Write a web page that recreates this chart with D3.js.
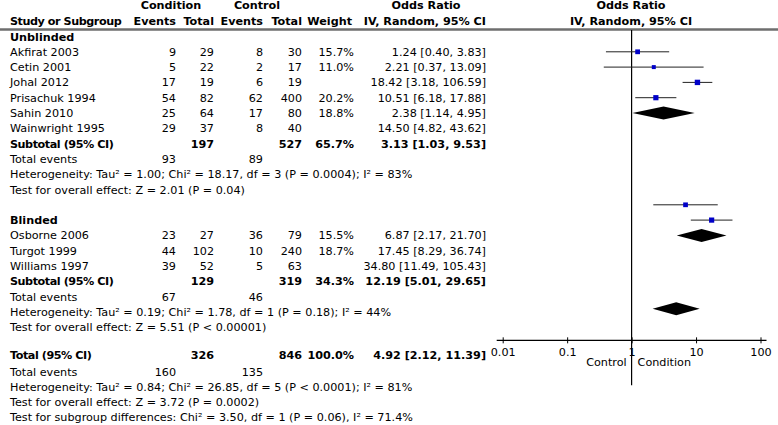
<!DOCTYPE html>
<html>
<head>
<meta charset="utf-8">
<script src="https://cdn.jsdelivr.net/npm/d3@7"></script>
<style>
  body { margin: 0; background: #fff; }
  svg text { font-family: "DejaVu Sans", Verdana, sans-serif; font-size: 11.2px; fill: #000; }
  .b { font-weight: bold; }
  .tight { letter-spacing: -0.45px; }
</style>
</head>
<body>
<div id="forest"></div>
<script>
// ---- data ----
var unblindedStudies = ["Akfirat 2003", "Cetin 2001", "Johal 2012", "Prisachuk 1994", "Sahin 2010", "Wainwright 1995"];
var unblindedCondEvents = [9, 5, 17, 54, 25, 29];
var unblindedCondTotal = [29, 22, 19, 82, 64, 37];
var unblindedCtrlEvents = [8, 2, 6, 62, 17, 8];
var unblindedCtrlTotal = [30, 17, 19, 400, 80, 40];
var unblindedWeight = [15.7, 11.0, null, 20.2, 18.8, null];
var unblindedOR = [1.24, 2.21, 18.42, 10.51, 2.38, 14.50];
var unblindedLo = [0.40, 0.37, 3.18, 6.18, 1.14, 4.82];
var unblindedHi = [3.83, 13.09, 106.59, 17.88, 4.95, 43.62];

var blindedStudies = ["Osborne 2006", "Turgot 1999", "Williams 1997"];
var blindedCondEvents = [23, 44, 39];
var blindedCondTotal = [27, 102, 52];
var blindedCtrlEvents = [36, 10, 5];
var blindedCtrlTotal = [79, 240, 63];
var blindedWeight = [15.5, 18.7, null];
var blindedOR = [6.87, 17.45, 34.80];
var blindedLo = [2.17, 8.29, 11.49];
var blindedHi = [21.70, 36.74, 105.43];

// subtotal rows: [cond total, ctrl total, weight, OR, lo, hi]
var unblindedSubtotal = [197, 527, 65.7, 3.13, 1.03, 9.53];
var blindedSubtotal = [129, 319, 34.3, 12.19, 5.01, 29.65];
var overallTotal = [326, 846, 100.0, 4.92, 2.12, 11.39];
// total events: [condition, control]
var unblindedEvents = [93, 89];
var blindedEvents = [67, 46];
var overallEvents = [160, 135];

var unblindedHet = "Heterogeneity: Tau² = 1.00; Chi² = 18.17, df = 3 (P = 0.0004); I² = 83%";
var unblindedTest = "Test for overall effect: Z = 2.01 (P = 0.04)";
var blindedHet = "Heterogeneity: Tau² = 0.19; Chi² = 1.78, df = 1 (P = 0.18); I² = 44%";
var blindedTest = "Test for overall effect: Z = 5.51 (P < 0.00001)";
var overallHet = "Heterogeneity: Tau² = 0.84; Chi² = 26.85, df = 5 (P < 0.0001); I² = 81%";
var overallTest = "Test for overall effect: Z = 3.72 (P = 0.0002)";
var subgroupTest = "Test for subgroup differences: Chi² = 3.50, df = 1 (P = 0.06), I² = 71.4%";

var axisTicks = [0.01, 0.1, 1, 10, 100];
var axisTickLabels = ["0.01", "0.1", "1", "10", "100"];

// ---- layout ----
var width = 778, height = 425;
var rowTop = 36.5, rowStep = 15.3;
var col = { label: 10, ce: 176, ct: 214, ke: 263, kt: 302, w: 354, or: 486 };

var fmt2 = d3.format(".2f"), fmt1 = d3.format(".1f");
function orText(or, lo, hi) { return fmt2(or) + " [" + fmt2(lo) + ", " + fmt2(hi) + "]"; }

// build rows; plotted marks skip the rows of studies without weight
var rows = [];
var r = 0, skipped = 0;
function addRow(obj, advance) {
  obj.r = r;
  obj.pr = r - skipped;
  rows.push(obj);
  r += advance;
}
function addGroup(name, studies, ce, ct, ke, kt, w, or, lo, hi, sub, ev, het, test) {
  addRow({ kind: "group", label: name }, 1);
  studies.forEach(function (s, i) {
    addRow({ kind: "study", label: s, ce: ce[i], ct: ct[i], ke: ke[i], kt: kt[i], w: w[i], or: or[i], lo: lo[i], hi: hi[i] }, 1);
    if (w[i] == null) skipped += 1;
  });
  addRow({ kind: "sub", label: "Subtotal (95% CI)", ct: sub[0], kt: sub[1], w: sub[2], or: sub[3], lo: sub[4], hi: sub[5] }, 1);
  addRow({ kind: "events", label: "Total events", ce: ev[0], ke: ev[1] }, 1);
  addRow({ kind: "note", label: het }, 1);
  addRow({ kind: "note", label: test }, 1);
}
addGroup("Unblinded", unblindedStudies, unblindedCondEvents, unblindedCondTotal, unblindedCtrlEvents,
  unblindedCtrlTotal, unblindedWeight, unblindedOR, unblindedLo, unblindedHi,
  unblindedSubtotal, unblindedEvents, unblindedHet, unblindedTest);
r += 1;
addGroup("Blinded", blindedStudies, blindedCondEvents, blindedCondTotal, blindedCtrlEvents,
  blindedCtrlTotal, blindedWeight, blindedOR, blindedLo, blindedHi,
  blindedSubtotal, blindedEvents, blindedHet, blindedTest);
r += 0.8;
addRow({ kind: "sub", label: "Total (95% CI)", ct: overallTotal[0], kt: overallTotal[1], w: overallTotal[2], or: overallTotal[3], lo: overallTotal[4], hi: overallTotal[5] }, 1.1);
addRow({ kind: "events", label: "Total events", ce: overallEvents[0], ke: overallEvents[1] }, 1);
addRow({ kind: "note", label: overallHet }, 1);
addRow({ kind: "note", label: overallTest }, 1);
addRow({ kind: "note", label: subgroupTest }, 1);

function yRow(rr) { return rowTop + rr * rowStep; }

var svg = d3.select("#forest").append("svg")
  .attr("width", width).attr("height", height);

// header
var head = svg.append("g");
head.append("text").attr("x", 171).attr("y", 9).attr("text-anchor", "middle").attr("class", "b").text("Condition");
head.append("text").attr("x", 257).attr("y", 9).attr("text-anchor", "middle").attr("class", "b").text("Control");
head.append("text").attr("x", 426).attr("y", 9).attr("text-anchor", "middle").attr("class", "b").text("Odds Ratio");
head.append("text").attr("x", 631).attr("y", 9).attr("text-anchor", "middle").attr("class", "b").text("Odds Ratio");
var h2 = [["Study or Subgroup", col.label, "start"], ["Events", col.ce, "end"], ["Total", col.ct, "end"],
  ["Events", col.ke, "end"], ["Total", col.kt, "end"], ["Weight", col.w - 2, "end"],
  ["IV, Random, 95% CI", col.or, "end"], ["IV, Random, 95% CI", 631, "middle"]];
h2.forEach(function (h, i) {
  head.append("text").attr("x", h[1]).attr("y", 25).attr("text-anchor", h[2])
    .attr("class", i === 0 ? "b tight" : "b").text(h[0]);
});
svg.append("line").attr("x1", 0).attr("x2", width).attr("y1", 29.5).attr("y2", 29.5)
  .attr("stroke", "#6e6e6e").attr("stroke-width", 2.5);

// table text
var tbl = svg.append("g");
rows.forEach(function (d) {
  var y = yRow(d.r) + 4;
  var bold = d.kind === "group" || d.kind === "sub";
  function put(x, txt, anchor, extra) {
    if (txt == null) return;
    tbl.append("text").attr("x", x).attr("y", y).attr("text-anchor", anchor || "end")
      .attr("class", (bold ? "b" : "") + (extra ? " " + extra : "")).text(txt);
  }
  put(col.label, d.label, "start", d.kind === "sub" ? "tight" : null);
  put(col.ce, d.ce);
  put(col.ct, d.ct);
  put(col.ke, d.ke);
  put(col.kt, d.kt);
  if (d.w != null) put(col.w, fmt1(d.w) + "%");
  if (d.or != null) put(col.or, orText(d.or, d.lo, d.hi));
});

// forest plot
var x = d3.scaleLog().domain([0.01, 100]).range([502.7, 760.5]);
var plot = svg.append("g");
var plotted = rows.filter(function (d) { return (d.kind === "study" && d.w != null) || d.kind === "sub"; });
var lastPlotY = yRow(plotted[plotted.length - 1].pr);
var axisY = lastPlotY + 31.5;

// null line
plot.append("line").attr("x1", x(1)).attr("x2", x(1)).attr("y1", 30).attr("y2", axisY + 45)
  .attr("stroke", "#000").attr("stroke-width", 1.2);

plotted.forEach(function (d) {
  var y = yRow(d.pr);
  if (d.kind === "study") {
    plot.append("line").attr("x1", x(d.lo)).attr("x2", x(d.hi)).attr("y1", y).attr("y2", y)
      .attr("stroke", "#222").attr("stroke-width", 1);
    var s = 1.2 * Math.sqrt(d.w);
    plot.append("rect").attr("x", x(d.or) - s / 2).attr("y", y - s / 2)
      .attr("width", s).attr("height", s).attr("fill", "#0000c8");
  } else {
    var hh = 6.5;
    plot.append("path")
      .attr("d", "M" + x(d.lo) + "," + y + "L" + x(d.or) + "," + (y - hh) + "L" + x(d.hi) + "," + y +
        "L" + x(d.or) + "," + (y + hh) + "Z")
      .attr("fill", "#000");
  }
});

// axis
var ax = svg.append("g").attr("transform", "translate(0," + axisY + ")")
  .call(d3.axisBottom(x).tickValues(axisTicks)
    .tickFormat(function (d, i) { return axisTickLabels[i]; })
    .tickSizeOuter(0).tickSizeInner(3).tickPadding(5));
ax.select(".domain").remove();
ax.selectAll(".tick line").attr("y1", -3).attr("y2", 3).attr("stroke", "#000");
ax.selectAll(".tick text").attr("fill", "#000");
ax.attr("font-family", null).attr("font-size", null);
ax.append("line").attr("x1", x.range()[0] - 6).attr("x2", x.range()[1] + 6).attr("y1", 0).attr("y2", 0)
  .attr("stroke", "#000").attr("stroke-width", 1.2);

svg.append("text").attr("x", x(1) - 5).attr("y", axisY + 26).attr("text-anchor", "end").text("Control");
svg.append("text").attr("x", x(1) + 6).attr("y", axisY + 26).attr("text-anchor", "start").text("Condition");
</script>
</body>
</html>
